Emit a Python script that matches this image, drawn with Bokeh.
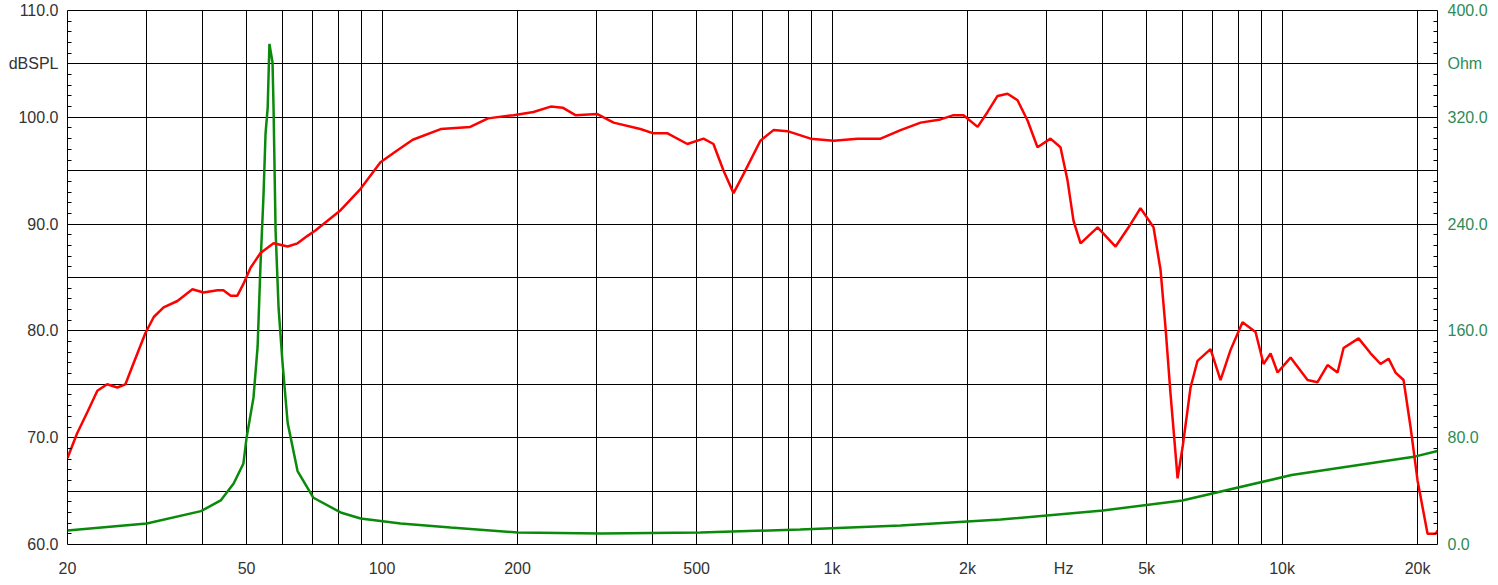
from bokeh.plotting import figure
from bokeh.models import Range1d, LinearAxis, FixedTicker
from bokeh.embed import file_html
from bokeh.resources import INLINE

# ---- SPL curve (dB) ----
freq_spl = [20.0, 21.0, 22.2, 23.3, 24.5, 25.8, 26.9, 28.0, 29.8, 31.1, 32.7, 35.1, 37.9, 40.1,
            43.1, 44.4, 46.1, 47.7, 49.2, 51.0, 53.7, 57.4, 61.7, 64.9, 68.3, 71.1, 80.9, 89.6,
            99.2, 108, 117, 135, 157, 172, 196, 217, 237, 252, 269, 301, 327, 375, 401, 431,
            477, 518, 545, 574, 604, 636, 693, 741, 796, 896, 1008, 1139, 1282, 1420, 1573,
            1742, 1862, 1959, 2106, 2216, 2332, 2454, 2583, 2719, 2861, 3058, 3218, 3336,
            3440, 3566, 3891, 4266, 4559, 4846, 5180, 5370, 5508, 5651, 5798, 5858, 6010,
            6260, 6488, 6934, 7298, 7680, 8168, 8730, 9096, 9428, 9773, 10444, 11392, 11990,
            12619, 13282, 13698, 14791, 15728, 16550, 17242, 17870, 18618, 19296, 20000,
            21050, 21930, 22150]
spl = [68.1, 70.4, 72.5, 74.4, 75.0, 74.7, 75.0, 76.9, 79.8, 81.3, 82.2, 82.8, 83.9, 83.6,
       83.8, 83.8, 83.3, 83.3, 84.4, 85.9, 87.3, 88.2, 87.9, 88.2, 88.9, 89.4, 91.3, 93.3,
       95.8, 96.9, 97.9, 98.9, 99.1, 99.9, 100.2, 100.5, 101.0, 100.9, 100.2, 100.3, 99.5,
       98.9, 98.5, 98.5, 97.5, 98.0, 97.5, 95.0, 92.9, 94.7, 97.8, 98.8, 98.7, 98.0, 97.8,
       98.0, 98.0, 98.8, 99.5, 99.8, 100.2, 100.2, 99.1, 100.5, 102.0, 102.2, 101.6, 99.7,
       97.2, 98.0, 97.2, 94.1, 90.3, 88.2, 89.7, 87.9, 89.7, 91.5, 89.7, 85.7, 80.3, 74.1,
       68.5, 66.2, 69.1, 74.7, 77.2, 78.3, 75.4, 78.2, 80.8, 79.9, 76.9, 77.9, 76.1, 77.5,
       75.4, 75.2, 76.8, 76.1, 78.4, 79.3, 77.9, 76.9, 77.4, 76.1, 75.4, 71.0, 66.0, 61.0,
       61.0, 61.3]

# ---- Impedance curve (Ohm) ----
freq_imp = [20, 30, 39.6, 43.8, 46.8, 49.2, 50.0, 51.8, 52.9, 53.7, 54.5, 55.1, 55.7, 56.2,
            57.1, 57.4, 58.0, 58.9, 60.1, 61.7, 64.9, 70.4, 80.9, 89.6, 110, 142, 200, 306,
            510, 850, 1420, 2370, 4000, 6000, 10500, 19800, 22150]
imp = [10.5, 15.7, 25, 33, 45.7, 60.7, 80, 110, 148, 210, 260, 308, 327, 375, 361, 327, 235,
       177, 136, 91, 55, 35, 24, 19.5, 15.7, 12.7, 9, 8.2, 9, 11.2, 14.2, 18.7, 25.5, 33, 52,
       66, 70]

# ---- axes / labels ----
x_label_ticks = [20, 50, 100, 200, 500, 1000, 2000, 3270, 5000, 10000, 20000]
x_label_text = ["20", "50", "100", "200", "500", "1k", "2k", "Hz", "5k", "10k", "20k"]
x_grid_ticks = [20, 30, 40, 50, 60, 70, 80, 90, 100, 200, 300, 400, 500, 600, 700, 800, 900,
                1000, 2000, 3000, 4000, 5000, 6000, 7000, 8000, 9000, 10000, 20000]
db_ticks = [60, 65, 70, 75, 80, 85, 90, 95, 100, 105, 110]
db_text = ["60.0", "", "70.0", "", "80.0", "", "90.0", "", "100.0", "dBSPL", "110.0"]
ohm_ticks = [0, 40, 80, 120, 160, 200, 240, 280, 320, 360, 400]
ohm_text = ["0.0", "", "80.0", "", "160.0", "", "240.0", "", "320.0", "Ohm", "400.0"]

FONT = "Liberation Sans"
FS = "16px"

p = figure(x_axis_type="log", x_range=Range1d(20, 22150), y_range=Range1d(60, 110),
           frame_width=1370, frame_height=534,
           min_border_left=67, min_border_right=55, min_border_top=10, min_border_bottom=38,
           output_backend="svg", toolbar_location=None,
           background_fill_color="white", border_fill_color="white")
p.extra_y_ranges = {"ohm": Range1d(0, 400)}

p.outline_line_color = "black"
p.outline_line_width = 1
p.outline_line_alpha = 1

# x axis
xa = p.xaxis[0]
xa.ticker = FixedTicker(ticks=x_label_ticks, minor_ticks=[])
xa.major_label_overrides = {t: s for t, s in zip(x_label_ticks, x_label_text)}
xa.major_tick_in = 0
xa.major_tick_out = 0
xa.minor_tick_in = 0
xa.minor_tick_out = 0
xa.axis_line_color = None
xa.major_label_standoff = 15
xa.major_label_text_font = FONT
xa.major_label_text_font_size = FS
xa.major_label_text_color = "#333333"

# left axis
db_minor = [v for v in range(60, 111) if v % 5 != 0]
ya = p.yaxis[0]
ya.ticker = FixedTicker(ticks=db_ticks, minor_ticks=db_minor)
ya.major_label_overrides = {t: s for t, s in zip(db_ticks, db_text)}
ya.major_tick_in = 0
ya.major_tick_out = 0
ya.minor_tick_in = 4
ya.minor_tick_out = 0
ya.minor_tick_line_color = "black"
ya.axis_line_color = None
ya.major_label_standoff = 9
ya.major_label_text_font = FONT
ya.major_label_text_font_size = FS
ya.major_label_text_color = "#333333"

# right axis
ohm_minor = [v for v in range(0, 401, 8) if v % 40 != 0]
ra = LinearAxis(y_range_name="ohm",
                ticker=FixedTicker(ticks=ohm_ticks, minor_ticks=ohm_minor))
ra.major_label_overrides = {t: s for t, s in zip(ohm_ticks, ohm_text)}
ra.major_tick_in = 0
ra.major_tick_out = 0
ra.minor_tick_in = 4
ra.minor_tick_out = 0
ra.minor_tick_line_color = "black"
ra.axis_line_color = None
ra.major_label_standoff = 10
ra.major_label_text_font = FONT
ra.major_label_text_font_size = FS
ra.major_label_text_color = "#2e8b57"
p.add_layout(ra, "right")

# grids
p.xgrid.ticker = FixedTicker(ticks=x_grid_ticks, minor_ticks=[])
p.ygrid.ticker = FixedTicker(ticks=db_ticks, minor_ticks=[])
for g in (p.xgrid[0], p.ygrid[0]):
    g.grid_line_color = "black"
    g.grid_line_alpha = 1
    g.grid_line_width = 1

# curves
p.line(freq_imp, imp, y_range_name="ohm", line_color="#0a8a0a", line_width=2.5)
p.line(freq_spl, spl, line_color="#ff0000", line_width=2.5)

open("out.html", "w").write(file_html(p, INLINE))
